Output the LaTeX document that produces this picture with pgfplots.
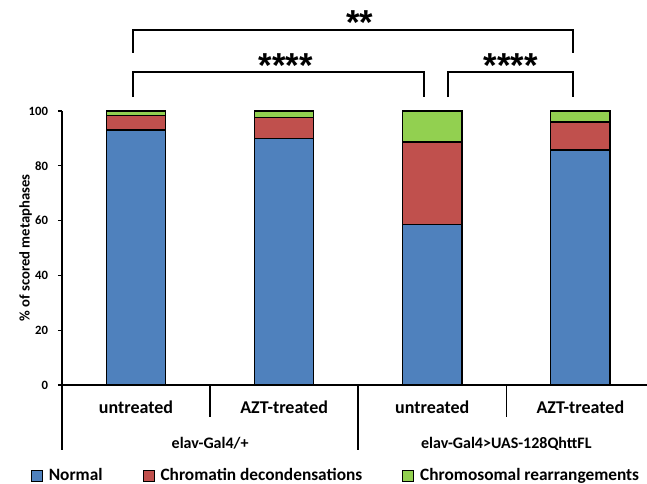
\documentclass[border=0pt]{standalone}
\usepackage{fontspec}
\setmainfont{Carlito}
\newfontfamily\starfont{Liberation Sans}
\usepackage{pgfplots}
\pgfplotsset{compat=1.18}
\definecolor{cblue}{HTML}{4F81BD}
\definecolor{cred}{HTML}{C0504D}
\definecolor{cgreen}{HTML}{92D050}
\begin{document}
\begin{tikzpicture}
\useasboundingbox (-46.5pt,-74.25pt) rectangle (438.75pt,288.75pt);
\begin{axis}[
  scale only axis,
  width=438.75pt, height=205.5pt,
  xmin=-0.5, xmax=3.45, ymin=0, ymax=100,
  axis x line*=bottom, axis y line*=left,
  axis line style={line width=1.1pt},
  xtick=\empty,
  ytick={0,20,40,60,80,100},
  tick align=outside, major tick length=3pt,
  tick style={line width=1pt, black},
  yticklabel style={font=\bfseries\fontsize{9.5}{10}\selectfont, xshift=-4pt},
  /pgf/number format/assume math mode=true,
  ylabel={\% of scored metaphases},
  ylabel style={at={(axis description cs:-0.062,0.5)}, anchor=center, font=\bfseries\fontsize{11}{12}\selectfont},
  ybar stacked, bar width=0.4,
  clip=false,
  legend columns=3,
  legend style={draw=none, at={(axis description cs:0.469,-0.330)}, anchor=center,
    font=\bfseries\fontsize{13}{15}\selectfont,
    /tikz/every even column/.append style={column sep=28pt},
    /tikz/every odd column/.append style={column sep=2.5pt}},
  legend image code/.code={\draw[#1, line width=0.7pt] (0pt,-4.5pt) rectangle (8.25pt,3.75pt);},
]
\addplot[fill=cblue, draw=black, line width=1pt] coordinates {(0,93.1) (1,90.0) (2,58.6) (3,85.8)};
\addplot[fill=cred, draw=black, line width=1pt] coordinates {(0,5.3) (1,7.7) (2,30.1) (3,10.2)};
\addplot[fill=cgreen, draw=black, line width=1pt] coordinates {(0,1.6) (1,2.3) (2,11.3) (3,4.0)};
\legend{Normal, Chromatin decondensations, Chromosomal rearrangements}
% category separators
\draw[line width=1.1pt] (axis cs:0.5,0) -- ++(0pt,-24pt);
\draw[line width=1.1pt] (axis cs:2.5,0) -- ++(0pt,-24pt);
\draw[line width=1.1pt] (axis cs:1.5,0) -- ++(0pt,-48.75pt);
\draw[line width=1.1pt] (axis cs:-0.5,0) -- ++(0pt,-48.75pt);
\node[font=\bfseries\fontsize{13.5}{15}\selectfont] at ([yshift=-16.5pt]axis cs:0,0) {untreated};
\node[font=\bfseries\fontsize{13.5}{15}\selectfont] at ([yshift=-16.5pt]axis cs:1,0) {AZT-treated};
\node[font=\bfseries\fontsize{13.5}{15}\selectfont] at ([yshift=-16.5pt]axis cs:2,0) {untreated};
\node[font=\bfseries\fontsize{13.5}{15}\selectfont] at ([yshift=-16.5pt]axis cs:3,0) {AZT-treated};
\node[font=\bfseries\fontsize{12}{14}\selectfont] at ([yshift=-44pt]axis cs:0.5,0) {elav-Gal4/+};
\node[font=\bfseries\fontsize{12}{14}\selectfont] at ([yshift=-44pt]axis cs:2.5,0) {elav-Gal4>UAS-128QhttFL};
% significance brackets
\draw[line width=1.5pt] (axis cs:-0.02,121.2) -- (axis cs:-0.02,129.6) -- (axis cs:2.95,129.6) -- (axis cs:2.95,121.2);
\draw[line width=1.5pt] (axis cs:-0.02,105.1) -- (axis cs:-0.02,114.2) -- (axis cs:1.946,114.2) -- (axis cs:1.946,105.1);
\draw[line width=1.5pt] (axis cs:2.108,105.1) -- (axis cs:2.108,114.2) -- (axis cs:2.95,114.2) -- (axis cs:2.95,105.1);
\node[font=\starfont\bfseries\fontsize{26}{28}\selectfont, inner sep=0pt] at (axis cs:1.51,132.2) {**};
\node[font=\starfont\bfseries\fontsize{26}{28}\selectfont, inner sep=0pt] at (axis cs:1.01,116.7) {****};
\node[font=\starfont\bfseries\fontsize{26}{28}\selectfont, inner sep=0pt] at (axis cs:2.53,116.7) {****};
\end{axis}
\end{tikzpicture}
\end{document}
